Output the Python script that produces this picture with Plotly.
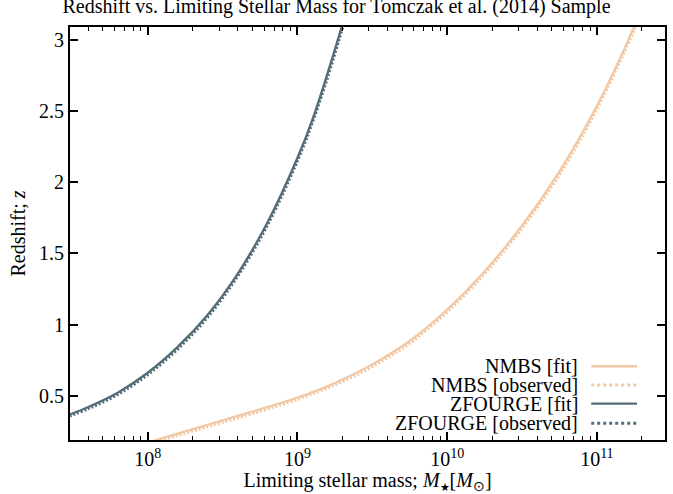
import plotly.graph_objects as go

# ---- data (stellar mass in M_sun, redshift z) ----
nmbs_fit_mass = [1.00e8, 1.78e8, 3.16e8, 5.62e8, 1.00e9, 1.78e9, 3.16e9, 5.62e9,
                 1.00e10, 1.78e10, 3.16e10, 5.62e10, 1.00e11, 1.78e11, 2.00e11]
nmbs_fit_z    = [0.172, 0.250, 0.328, 0.405, 0.488, 0.590, 0.720, 0.885,
                 1.105, 1.375, 1.695, 2.075, 2.535, 3.095, 3.23]

nmbs_obs_mass = [0.90e8, 1.80e8, 3.20e8, 5.70e8, 1.01e9, 1.80e9, 3.20e9, 5.70e9,
                 1.01e10, 1.80e10, 3.20e10, 5.70e10, 1.01e11, 1.80e11, 2.02e11]
nmbs_obs_z    = [0.150, 0.238, 0.316, 0.393, 0.476, 0.578, 0.708, 0.873,
                 1.093, 1.363, 1.683, 2.063, 2.523, 3.083, 3.22]

zf_fit_mass = [2.82e7, 3.98e7, 6.31e7, 1.00e8, 1.58e8, 2.51e8, 3.98e8, 6.31e8,
               1.00e9, 1.26e9, 1.58e9, 2.00e9, 2.14e9]
zf_fit_z    = [0.357, 0.420, 0.522, 0.662, 0.842, 1.068, 1.355, 1.717,
               2.170, 2.440, 2.755, 3.110, 3.220]

zf_obs_mass = [2.82e7, 4.02e7, 6.37e7, 1.01e8, 1.60e8, 2.54e8, 4.02e8, 6.37e8,
               1.01e9, 1.27e9, 1.60e9, 2.02e9, 2.16e9]
zf_obs_z    = [0.347, 0.410, 0.512, 0.652, 0.832, 1.058, 1.345, 1.707,
               2.160, 2.430, 2.745, 3.100, 3.210]

x_tick_vals = [1e8, 1e9, 1e10, 1e11]
x_tick_text = ["10<sup>8</sup>", "10<sup>9</sup>", "10<sup>10</sup>", "10<sup>11</sup>"]
y_tick_vals = [0.5, 1, 1.5, 2, 2.5, 3]
y_tick_text = ["0.5", "1", "1.5", "2", "2.5", "3"]

legend_names = ["NMBS [fit]", "NMBS [observed]", "ZFOURGE [fit]", "ZFOURGE [observed]"]

C_NMBS = "#f2c8a5"
C_ZF = "#536d78"
FONT = "Liberation Serif"

fig = go.Figure()
fig.add_trace(go.Scatter(x=nmbs_obs_mass, y=nmbs_obs_z, mode="lines",
                         line=dict(color=C_NMBS, width=3, dash="2px,2px", shape="spline", smoothing=1), showlegend=False))
fig.add_trace(go.Scatter(x=nmbs_fit_mass, y=nmbs_fit_z, mode="lines",
                         line=dict(color=C_NMBS, width=2.4, shape="spline", smoothing=1), showlegend=False))
fig.add_trace(go.Scatter(x=zf_obs_mass, y=zf_obs_z, mode="lines",
                         line=dict(color=C_ZF, width=3, dash="2px,2px", shape="spline", smoothing=1), showlegend=False))
fig.add_trace(go.Scatter(x=zf_fit_mass, y=zf_fit_z, mode="lines",
                         line=dict(color=C_ZF, width=2.4, shape="spline", smoothing=1), showlegend=False))

minor_vals = [k * 10 ** n for n in range(7, 12) for k in range(2, 10)]

fig.update_xaxes(
    type="log", range=[7.481, 11.455],
    tickmode="array", tickvals=x_tick_vals, ticktext=x_tick_text,
    ticks="inside", ticklen=8, tickwidth=1.5, tickcolor="black",
    showline=True, linewidth=2, linecolor="black", mirror="allticks",
    showgrid=False, zeroline=False,
    minor=dict(ticks="inside", ticklen=4, tickwidth=1, tickcolor="black", tickvals=minor_vals, showgrid=False),
    tickfont=dict(family=FONT, size=20, color="black"),
    title=dict(text="Limiting stellar mass; <i>M</i><sub><span style='font-size:11px'>★</span></sub>[<i>M</i><sub>⊙</sub>]",
               font=dict(family=FONT, size=20, color="black"), standoff=4),
)
fig.update_yaxes(
    range=[0.19, 3.09],
    tickmode="array", tickvals=y_tick_vals, ticktext=y_tick_text,
    ticks="inside", ticklen=8, tickwidth=1.5, tickcolor="black",
    showline=True, linewidth=2, linecolor="black", mirror="allticks",
    showgrid=False, zeroline=False,
    tickfont=dict(family=FONT, size=20, color="black"),
    title=dict(text="Redshift; <i>z</i>", font=dict(family=FONT, size=20, color="black"), standoff=8),
)

# manual legend (text left of sample, as in the reference)
row_y = [0.1786, 0.1333, 0.0881, 0.0405]
styles = [(C_NMBS, None, 2.4), (C_NMBS, "dot", 3), (C_ZF, None, 2.4), (C_ZF, "dot", 3)]
for name, yy, (col, dash, w) in zip(legend_names, row_y, styles):
    fig.add_annotation(x=0.8576, y=yy, xref="paper", yref="paper", text=name, showarrow=False,
                       xanchor="right", yanchor="middle", font=dict(family=FONT, size=20, color="black"))
    fig.add_shape(type="line", xref="paper", yref="paper", x0=0.876, x1=0.953, y0=yy, y1=yy,
                  line=dict(color=col, width=w, dash=dash))

fig.update_layout(
    width=673, height=494,
    margin=dict(l=70, r=6, t=27, b=47),
    paper_bgcolor="white", plot_bgcolor="white",
    title=dict(text="Redshift vs. Limiting Stellar Mass for Tomczak et al. (2014) Sample",
               x=0.5, xanchor="center", yref="container", y=0.988, yanchor="middle",
               font=dict(family=FONT, size=20, color="black")),
    showlegend=False,
)

fig.write_html("out.html")
